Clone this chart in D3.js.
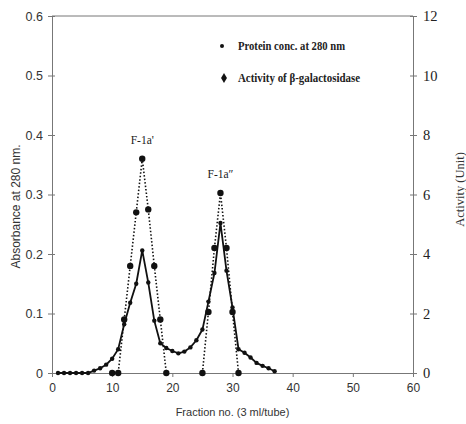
<!DOCTYPE html>
<html><head><meta charset="utf-8">
<script src="https://cdn.jsdelivr.net/npm/d3@7"></script>
<style>body{margin:0;background:#fff}svg{display:block}</style>
</head><body><svg id="c" width="466" height="424"></svg>
<script>
const fractions = d3.range(1, 38);
const protein = [0,0,0,0,0,0,0.004,0.008,0.014,0.024,0.04,0.082,0.118,0.15,0.206,0.152,0.088,0.05,0.042,0.037,0.033,0.036,0.043,0.055,0.073,0.12,0.168,0.252,0.172,0.11,0.04,0.034,0.026,0.017,0.012,0.008,0.003];
const actFractions = [10,11,12,13,14,15,16,17,18,19,25,26,27,28,29,30,31];
const activity = [0,0,1.8,3.6,5.4,7.2,5.5,3.6,1.8,0,0,2.05,4.2,6.05,4.2,2.05,0];
const xTicks = [0,10,20,30,40,50,60];
const yLeftTicks = [0,0.1,0.2,0.3,0.4,0.5,0.6];
const yRightTicks = [0,2,4,6,8,10,12];
const peakLabels = [{t:"F-1a'", f:15, v:7.2},{t:"F-1a\u2033", f:28, v:6.05}];
const legendItems = ["Protein conc. at 280 nm","Activity of \u03B2-galactosidase"];

const svg = d3.select("#c");
const L=52,R=413,T=16,B=373;
const x = d3.scaleLinear().domain([0,60]).range([L,R]);
const yL = d3.scaleLinear().domain([0,0.6]).range([B,T]);
const yR = d3.scaleLinear().domain([0,12]).range([B,T]);
const axisCol="#777", ink="#111";
const sans="Arial, 'Liberation Sans', sans-serif", serif="'Times New Roman','Liberation Serif',serif";

svg.append("line").attr("x1",L).attr("x2",R).attr("y1",T).attr("y2",T).attr("stroke",axisCol).attr("stroke-width",1);

const gx = svg.append("g").attr("transform",`translate(0,${B})`)
  .call(d3.axisBottom(x).tickValues(xTicks).tickSize(4).tickPadding(6).tickFormat(d3.format("d")));
const gl = svg.append("g").attr("transform",`translate(${L},0)`)
  .call(d3.axisLeft(yL).tickValues(yLeftTicks).tickSize(4).tickPadding(5).tickFormat(d=>d===0?"0":d3.format(".1f")(d)));
const gr = svg.append("g").attr("transform",`translate(${R},0)`)
  .call(d3.axisRight(yR).tickValues(yRightTicks).tickSize(4).tickPadding(6).tickFormat(d3.format("d")));
[gx,gl,gr].forEach(g=>{
  g.select(".domain").attr("stroke",axisCol);
  g.selectAll(".tick line").attr("stroke",axisCol);
});
gx.selectAll("text").attr("font-family",sans).attr("font-size",12).attr("fill","#333");
gl.selectAll("text").attr("font-family",sans).attr("font-size",12.5).attr("fill","#333");
gr.selectAll("text").attr("font-family",serif).attr("font-size",14.5).attr("fill","#222");
gl.selectAll(".tick line").attr("x2",-4).clone().attr("x2",3);
gr.selectAll(".tick line").clone().attr("x2",-3);

svg.append("text").attr("transform",`translate(20,${(T+B)/2+12}) rotate(-90)`).attr("text-anchor","middle")
  .attr("font-family",sans).attr("font-size",12).attr("fill","#333").text("Absorbance at 280 nm.");
svg.append("text").attr("transform",`translate(464,${(T+B)/2-5}) rotate(-90)`).attr("text-anchor","middle")
  .attr("font-family",serif).attr("font-size",12.5).attr("fill","#333").text("Activity (Unit)");
svg.append("text").attr("x",(L+R)/2).attr("y",416).attr("text-anchor","middle")
  .attr("font-family",sans).attr("font-size",11).attr("fill","#333").text("Fraction no. (3 ml/tube)");

const actData = actFractions.map((f,i)=>({f, v:activity[i]}));
const seg1 = actData.filter(d=>d.f<=19), seg2 = actData.filter(d=>d.f>=25);
const lineR = d3.line().x(d=>x(d.f)).y(d=>yR(d.v));
[seg1,seg2].forEach(s=>svg.append("path").attr("d",lineR(s)).attr("fill","none")
  .attr("stroke",ink).attr("stroke-width",1.6).attr("stroke-dasharray","1.5,2"));

const protData = fractions.map((f,i)=>({f, v:protein[i]}));
svg.append("path").attr("d",d3.line().x(d=>x(d.f)).y(d=>yL(d.v))(protData))
  .attr("fill","none").attr("stroke",ink).attr("stroke-width",1.8);
svg.append("g").selectAll("circle").data(protData).join("circle")
  .attr("cx",d=>x(d.f)).attr("cy",d=>yL(d.v)).attr("r",2.2).attr("fill",ink);

svg.append("g").selectAll("circle").data(actData).join("circle")
  .attr("cx",d=>x(d.f)).attr("cy",d=>yR(d.v)).attr("r",3.2).attr("fill",ink);

svg.append("g").selectAll("text").data(peakLabels).join("text")
  .attr("x",d=>x(d.f)).attr("y",d=>yR(d.v)-15).attr("text-anchor","middle")
  .attr("font-family",serif).attr("font-size",11.5).attr("fill","#222").text(d=>d.t);

const lg = svg.append("g");
lg.append("circle").attr("cx",222).attr("cy",46).attr("r",2).attr("fill",ink);
lg.append("path").attr("d",d3.symbol(d3.symbolDiamond,30)()).attr("transform","translate(224,78)").attr("fill",ink);
lg.selectAll("text").data(legendItems).join("text")
  .attr("x",238).attr("y",(d,i)=>50+i*32)
  .attr("font-family",serif).attr("font-size",11.5).attr("font-weight","bold").attr("fill","#222")
  .attr("textLength",(d,i)=>i===0?107:122).attr("lengthAdjust","spacingAndGlyphs").text(d=>d);
</script></body></html>
